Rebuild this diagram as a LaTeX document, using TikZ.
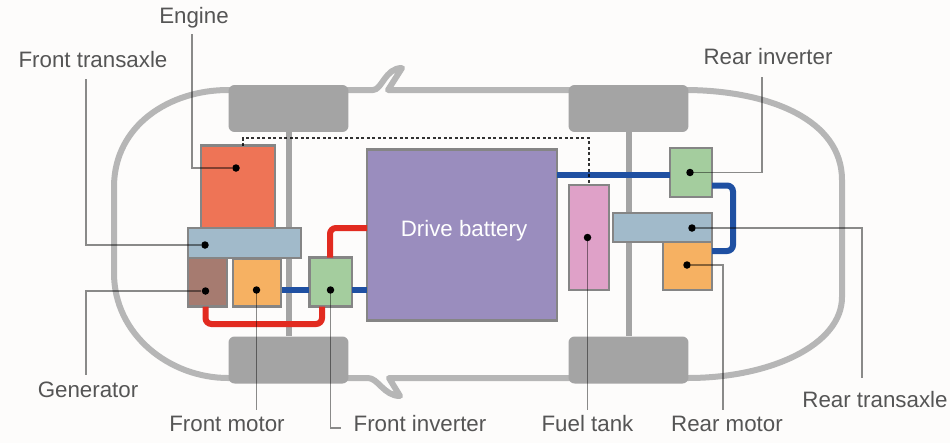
\documentclass[tikz,border=0pt]{standalone}
\usepackage{fontspec}
\setmainfont{Liberation Sans}
\usepackage{tikz}
\definecolor{paper}{HTML}{FDFCFB}
\definecolor{bodygray}{HTML}{B6B6B6}
\definecolor{wheelgray}{HTML}{A4A4A4}
\definecolor{edgegray}{HTML}{858585}
\definecolor{labelgray}{HTML}{555555}
\definecolor{enginecol}{HTML}{EE7456}
\definecolor{transcol}{HTML}{A1BACA}
\definecolor{gencol}{HTML}{A67B70}
\definecolor{motorcol}{HTML}{F6B162}
\definecolor{invcol}{HTML}{A4CD9E}
\definecolor{batcol}{HTML}{9A8DBE}
\definecolor{fuelcol}{HTML}{DFA1C8}
\definecolor{hvred}{HTML}{E22B20}
\definecolor{hvblue}{HTML}{1F50A2}
\tikzstyle{dot}=[circle, inner sep=0mm, minimum size=1.5mm, fill=black]
\tikzstyle{part}=[draw=edgegray, line width=.5mm, inner sep=0mm]
\tikzstyle{wheel}=[fill=wheelgray, rounded corners=1.2mm, inner sep=0mm, minimum width=2.4cm, minimum height=.94cm]
\tikzstyle{lab}=[text=labelgray, inner sep=0mm, font=\fontsize{12.7}{15}\selectfont]
\tikzstyle{leader}=[draw=black, opacity=.45, line width=.35mm]
\tikzstyle{axle}=[draw=wheelgray, line width=1.2mm]
\tikzstyle{redline}=[draw=hvred, line width=1.2mm, rounded corners=1.2mm]
\tikzstyle{blueline}=[draw=hvblue, line width=1.2mm, rounded corners=1.2mm]

\begin{document}
\begin{tikzpicture}[x=.02cm, y=-.02cm]
    \fill[paper] (0,0) rectangle (950,443);
    \useasboundingbox (0,0) rectangle (950,443);
    % car body
    \draw[bodygray, line width=1.2mm, line join=round]
      (228,90) -- (373,90) .. controls (382,90) and (385,68) .. (402,68)
      -- (388,90) -- (688,90) .. controls (770,91) and (842,120) .. (842,180)
      -- (842,297) .. controls (842,345) and (770,378) .. (688,378) -- (389,378)
      -- (400,396) .. controls (384,396) and (378,378) .. (368,378)
      -- (228,378) .. controls (170,378) and (114,335) .. (114,273)
      -- (114,187) .. controls (114,125) and (170,90) .. (228,90) -- cycle;
    \node[wheel] (wFL) at (288.5,108.5) {};
    \node[wheel] (wFR) at (288.5,360) {};
    \node[wheel] (wRL) at (628.5,108.5) {};
    \node[wheel] (wRR) at (628.5,360) {};
    \foreach \from/\to in {wFL/wFR, wRL/wRR}
    \draw[axle] (\from) -- (\to);
    % components
    \node[part, fill=enginecol, minimum width=1.48cm, minimum height=1.66cm] (engine) at (238,187) {};
    \node[part, fill=gencol, minimum width=.78cm, minimum height=.98cm] (generator) at (207.5,282) {};
    \node[part, fill=motorcol, minimum width=.96cm, minimum height=.96cm] (fmotor) at (257,282.5) {};
    \node[part, fill=transcol, minimum width=2.26cm, minimum height=.6cm] (ftrans) at (244.5,243) {};
    \node[part, fill=invcol, minimum width=.85cm, minimum height=.98cm] (finv) at (330.5,282) {};
    \node[part, fill=batcol, minimum width=3.8cm, minimum height=3.42cm] (battery) at (462,235) {};
    \node[part, fill=fuelcol, minimum width=.8cm, minimum height=2.1cm] (fuel) at (589,237.5) {};
    \node[part, fill=motorcol, minimum width=.98cm, minimum height=.96cm] (rmotor) at (687.5,266) {};
    \node[part, fill=transcol, minimum width=1.98cm, minimum height=.58cm] (rtrans) at (662.5,227.5) {};
    \node[part, fill=invcol, minimum width=.84cm, minimum height=.98cm] (rinv) at (691,172.5) {};
    \node[text=white, inner sep=0mm, font=\fontsize{12.7}{15}\selectfont] (batlab) at (464,231) {Drive battery};
    % power lines
    \coordinate (redA) at (205.5,306.5);
    \coordinate (redB) at (322,306.5);
    \coordinate (redC) at (330,257.5);
    \coordinate (redD) at (367,228);
    \draw[redline] (redA) -- (205.5,324) -- (322,324) -- (redB);
    \draw[redline] (redC) |- (redD);
    \coordinate (blueA) at (281.5,290);
    \coordinate (blueB) at (309,290);
    \coordinate (blueC) at (352,290);
    \coordinate (blueD) at (367,290);
    \coordinate (blueE) at (557,175);
    \coordinate (blueF) at (670,175);
    \coordinate (blueG) at (712,185.5);
    \coordinate (blueH) at (712,251);
    \foreach \from/\to in {blueA/blueB, blueC/blueD, blueE/blueF}
    \draw[blueline] (\from) -- (\to);
    \draw[blueline] (blueG) -- (733,185.5) -- (733,251) -- (blueH);
    % dotted link
    \coordinate (linkA) at (243,146);
    \draw[black, opacity=.8, line width=.3mm, dash pattern=on .6mm off .5mm] (linkA) -- (243,138) -| (fuel.north);
    % callouts
    \node[dot] (dEngine) at (236,168) {};
    \node[dot] (dFtrans) at (205,245) {};
    \node[dot] (dGen) at (205.5,291) {};
    \node[dot] (dFmotor) at (256.5,290) {};
    \node[dot] (dFinv) at (330.5,290) {};
    \node[dot] (dFuel) at (587.5,237.5) {};
    \node[dot] (dRinv) at (690,172.5) {};
    \node[dot] (dRtrans) at (692,228) {};
    \node[dot] (dRmotor) at (687,265) {};
    \coordinate (eEngine) at (192,34);
    \coordinate (eFtrans) at (86,79);
    \coordinate (eGen) at (86,375);
    \coordinate (eFmotor) at (256.5,410);
    \coordinate (eFinv) at (341,428);
    \coordinate (eFuel) at (587.5,410);
    \coordinate (eRinv) at (762,77);
    \coordinate (eRtrans) at (862,378);
    \coordinate (eRmotor) at (723,410);
    \foreach \from/\to in
      {dEngine/eEngine, dFtrans/eFtrans, dGen/eGen, dFmotor/eFmotor, dFuel/eFuel,
       dRinv/eRinv, dRtrans/eRtrans, dRmotor/eRmotor}
    \draw[leader] (\from) -| (\to);
    \draw[leader] (dFinv) |- (eFinv);
    \node[lab] (lEngine) at (194,18) {Engine};
    \node[lab] (lFtrans) at (93,60) {Front transaxle};
    \node[lab] (lGen) at (88,390) {Generator};
    \node[lab] (lFmotor) at (227,424) {Front motor};
    \node[lab] (lFinv) at (420,424) {Front inverter};
    \node[lab] (lFuel) at (587.5,424) {Fuel tank};
    \node[lab] (lRmotor) at (727,424) {Rear motor};
    \node[lab] (lRtrans) at (875,400) {Rear transaxle};
    \node[lab] (lRinv) at (768,57) {Rear inverter};
\end{tikzpicture}
\end{document}
